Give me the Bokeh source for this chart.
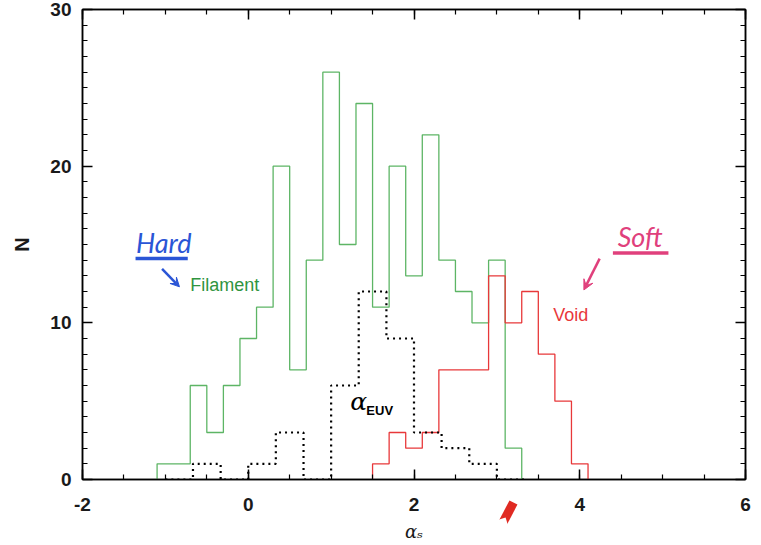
from bokeh.plotting import figure
from bokeh.models import (FixedTicker, LinearAxis, Label, Arrow, VeeHead,
                          CustomJSTickFormatter, Range1d)
from bokeh.embed import file_html
from bokeh.resources import INLINE

# ---- data ----
filament_edges = [-1.1, -0.9, -0.7, -0.5, -0.3, -0.1, 0.1, 0.3, 0.5, 0.7, 0.9, 1.1,
                  1.3, 1.5, 1.7, 1.9, 2.1, 2.3, 2.5, 2.7, 2.9, 3.1, 3.3]
filament_counts = [1, 1, 6, 3, 6, 9, 11, 20, 7, 14, 26, 15, 24, 11, 20, 13, 22, 14, 12, 10, 14, 2]

void_edges = [1.5, 1.7, 1.9, 2.1, 2.3, 2.5, 2.7, 2.9, 3.1, 3.3, 3.5, 3.7, 3.9, 4.1]
void_counts = [1, 3, 2, 3, 7, 7, 7, 13, 10, 12, 8, 5, 1]

euv_edges = [-1.0, -0.667, -0.333, 0.0, 0.333, 0.667, 1.0, 1.333, 1.667, 2.0, 2.333, 2.667, 3.0, 3.333]
euv_counts = [0, 1, 0, 1, 3, 0, 6, 12, 9, 3, 2, 1, 0]

x_ticks = [-2, 0, 2, 4, 6]
x_tick_labels = {-2: "-2", 0: "0", 2: "2", 4: "4", 6: "6"}
y_ticks = [0, 10, 20, 30]

GREEN_LINE = "#5db565"
GREEN_TEXT = "#2f9440"
RED = "#e8383a"
BLUE = "#2a55d6"
PINK = "#e0407c"
ARROW_RED = "#e02a22"


def outline(edges, counts):
    xs = [edges[0]] + list(edges[:-1]) + [edges[-1]]
    ys = [0] + list(counts) + [0]
    return xs, ys


p = figure(width=761, height=545, x_range=Range1d(-2, 6), y_range=Range1d(0, 30),
           output_backend="svg", toolbar_location=None,
           min_border_left=82, min_border_right=16, min_border_top=9, min_border_bottom=66)
p.grid.visible = False
p.outline_line_color = "black"
p.outline_line_width = 1.5
p.background_fill_color = "white"
p.border_fill_color = "white"

x_minor = [v / 2 for v in range(-4, 13)]
y_minor = list(range(0, 31))


def style_axis(ax, ticks, minor, labels=True):
    ax.ticker = FixedTicker(ticks=ticks, minor_ticks=minor)
    ax.axis_line_color = "black"
    ax.axis_line_width = 1.5
    ax.major_tick_in = 10
    ax.major_tick_out = 0
    ax.minor_tick_in = 5
    ax.minor_tick_out = 0
    ax.major_tick_line_width = 1.5
    ax.minor_tick_line_width = 1.2
    ax.major_tick_line_color = "black"
    ax.minor_tick_line_color = "black"
    ax.major_label_text_font = "Liberation Sans"
    ax.major_label_text_font_style = "bold"
    ax.major_label_text_font_size = "19px"
    ax.major_label_text_color = "#1a1a1a"
    if not labels:
        ax.formatter = CustomJSTickFormatter(code="return ''")
        ax.major_label_standoff = 0


xa = p.xaxis[0]
style_axis(xa, x_ticks, x_minor)
xa.major_label_overrides = x_tick_labels
xa.major_label_standoff = 18
xa.axis_label = "αₛ"
xa.axis_label_text_font = "DejaVu Serif"
xa.axis_label_text_font_style = "italic"
xa.axis_label_text_font_size = "18px"
xa.axis_label_text_color = "#1a1a1a"
xa.axis_label_standoff = 7

ya = p.yaxis[0]
style_axis(ya, y_ticks, y_minor)
ya.major_label_standoff = 11
ya.axis_label = "N"
ya.axis_label_text_font = "Liberation Sans"
ya.axis_label_text_font_style = "bold"
ya.axis_label_text_font_size = "20px"
ya.axis_label_text_color = "#1a1a1a"
ya.axis_label_standoff = 14

top = LinearAxis()
style_axis(top, x_ticks, x_minor, labels=False)
p.add_layout(top, "above")
right = LinearAxis()
style_axis(right, y_ticks, y_minor, labels=False)
p.add_layout(right, "right")

# histograms
fx, fy = outline(filament_edges, filament_counts)
p.step(fx, fy, mode="after", line_color=GREEN_LINE, line_width=1.3)
vx, vy = outline(void_edges, void_counts)
p.step(vx, vy, mode="after", line_color=RED, line_width=1.3)
ex, ey = outline(euv_edges, euv_counts)
p.step(ex, ey, mode="after", line_color="black", line_width=2.2, line_dash="2 4")

# printed labels
p.add_layout(Label(x=-0.70, y=12.4, text="Filament", text_color=GREEN_TEXT,
                   text_font="Liberation Sans", text_font_size="18px", text_baseline="middle"))
p.add_layout(Label(x=3.68, y=10.5, text="Void", text_color=RED,
                   text_font="Liberation Sans", text_font_size="18px", text_baseline="middle"))
p.add_layout(Label(x=1.23, y=4.95, text="α", text_color="black",
                   text_font="DejaVu Serif", text_font_style="italic", text_font_size="25px",
                   text_baseline="middle"))
p.add_layout(Label(x=1.425, y=4.4, text="EUV", text_color="black",
                   text_font="Liberation Sans", text_font_style="bold", text_font_size="13px",
                   text_baseline="middle"))

# handwritten notes
p.add_layout(Label(x=-1.02, y=15.1, text="Hard", text_color=BLUE,
                   text_font="Lato", text_font_style="italic", text_font_size="27px",
                   text_align="center", text_baseline="middle"))
p.line([-1.36, -0.73], [14.1, 14.1], line_color=BLUE, line_width=3.5)
p.add_layout(Arrow(x_start=-1.04, y_start=13.45, x_end=-0.83, y_end=12.3,
                   line_color=BLUE, line_width=2.5,
                   end=VeeHead(size=9, line_color=BLUE, fill_color=BLUE)))

p.add_layout(Label(x=4.73, y=15.5, text="Soft", text_color=PINK,
                   text_font="Lato", text_font_style="italic", text_font_size="27px",
                   text_align="center", text_baseline="middle"))
p.line([4.40, 5.07], [14.45, 14.45], line_color=PINK, line_width=3.5)
p.add_layout(Arrow(x_start=4.24, y_start=14.1, x_end=4.05, y_end=12.1,
                   line_color=PINK, line_width=2.5,
                   end=VeeHead(size=10, line_color=PINK, fill_color=PINK)))

# big hand-drawn red arrow under the axis
p.add_layout(Arrow(x_start=2.90, y_start=-4.5, x_end=3.20, y_end=-1.47,
                   line_color=ARROW_RED, line_width=9, level="overlay",
                   end=VeeHead(size=34, line_color=ARROW_RED, line_width=6,
                               fill_color=ARROW_RED)))

open("out.html", "w").write(file_html(p, INLINE))
